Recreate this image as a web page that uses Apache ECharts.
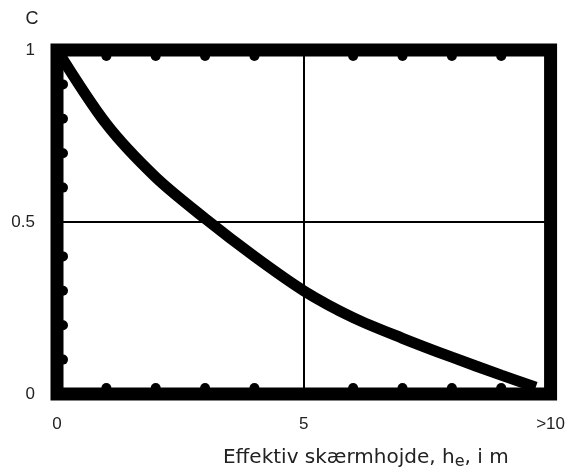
<!DOCTYPE html>
<html>
<head>
<meta charset="utf-8">
<script src="https://cdn.jsdelivr.net/npm/echarts@6/dist/echarts.min.js"></script>
<style>
  html, body { margin: 0; padding: 0; background: #fff; }
  #kurve { width: 568px; height: 475px; }
</style>
</head>
<body>
<div id="kurve"></div>
<script>
// skærmhøjde (m) og faktor C
var hojde = [0, 1, 2, 3, 4, 5, 6, 7, 8, 9, 9.7];
var cVaerdi = [1, 0.785, 0.63, 0.51, 0.40, 0.30, 0.222, 0.162, 0.107, 0.055, 0.02];

// små prikker langs rammen (delstreger)
var xPrikker = [1, 2, 3, 4, 6, 7, 8, 9];
var yPrikker = [0.1, 0.2, 0.3, 0.4, 0.6, 0.7, 0.8, 0.9];

var xEtiketter = { 0: "0", 5: "5", 10: ">10" };

var chart = echarts.init(document.getElementById("kurve"));

var linje = hojde.map(function (h, i) { return [h, cVaerdi[i]]; });
var prikTop = xPrikker.map(function (x) { return [x, 1]; });
var prikBund = xPrikker.map(function (x) { return [x, 0]; });
var prikVenstre = yPrikker.map(function (y) { return [0, y]; });

var prik = {
  type: "scatter",
  symbol: "circle",
  symbolSize: 10,
  itemStyle: { color: "#000", opacity: 1 },
  silent: true,
  z: 4
};

chart.setOption({
  animation: false,
  backgroundColor: "#fff",
  textStyle: { fontFamily: "Liberation Sans, Arial, sans-serif" },
  grid: {
    left: 57,
    top: 50,
    right: 16,
    bottom: 78,
    show: true,
    borderWidth: 13,
    borderColor: "#000",
    backgroundColor: "transparent"
  },
  xAxis: {
    type: "value",
    min: 0,
    max: 10,
    interval: 5,
    name: "Effektiv skærmhojde, h{sub|e}, i m",
    nameLocation: "middle",
    nameGap: 51,
    nameTextStyle: {
      fontSize: 20,
      color: "#222",
      fontFamily: "DejaVu Sans, sans-serif",
      padding: [0, 0, 0, 124],
      rich: {
        sub: { fontSize: 16, color: "#222", fontFamily: "DejaVu Sans, sans-serif", padding: [9, 0, 0, 0] }
      }
    },
    axisLine: { show: false },
    axisTick: { show: false },
    axisLabel: {
      margin: 22,
      fontSize: 17,
      color: "#222",
      formatter: function (v) { return xEtiketter[v]; }
    },
    splitLine: { show: true, lineStyle: { color: "#000", width: 2 } }
  },
  yAxis: {
    type: "value",
    min: 0,
    max: 1,
    interval: 0.5,
    name: "C",
    nameLocation: "end",
    nameGap: 22,
    nameTextStyle: { fontSize: 18, color: "#222", padding: [0, 50, 0, 0] },
    axisLine: { show: false },
    axisTick: { show: false },
    axisLabel: { margin: 22, fontSize: 17, color: "#222" },
    splitLine: { show: true, lineStyle: { color: "#000", width: 2 } }
  },
  series: [
    {
      type: "line",
      data: linje,
      smooth: 0.3,
      symbol: "none",
      lineStyle: { color: "#000", width: 11 },
      z: 3
    },
    Object.assign({}, prik, { data: prikTop, symbolOffset: [0, 6] }),
    Object.assign({}, prik, { data: prikBund, symbolOffset: [0, -6] }),
    Object.assign({}, prik, { data: prikVenstre, symbolOffset: [6, 0] })
  ]
});
</script>
</body>
</html>
